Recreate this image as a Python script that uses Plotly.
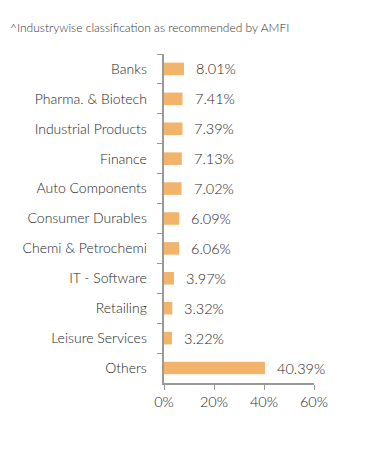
import plotly.graph_objects as go

categories = ["Banks", "Pharma. & Biotech", "Industrial Products", "Finance",
              "Auto Components", "Consumer Durables", "Chemi & Petrochemi",
              "IT - Software", "Retailing", "Leisure Services", "Others"]
values = [8.01, 7.41, 7.39, 7.13, 7.02, 6.09, 6.06, 3.97, 3.32, 3.22, 40.39]
x_ticks = [0, 20, 40, 60]
x_tick_labels = ["0%", "20%", "40%", "60%"]
note = "^Industrywise classification as recommended by AMFI"

FONT = "Lato"
TXT = "#1e1e1e"

fig = go.Figure(go.Bar(
    x=values, y=categories, orientation="h",
    marker=dict(color="#F2B36B", line=dict(width=0)),
    width=0.42,
))

for c, v in zip(categories, values):
    fig.add_annotation(x=v, y=c, text=f"{v:.2f}%", showarrow=False,
                       xanchor="left", xshift=10, yshift=0,
                       font=dict(family=FONT, size=14.5, color=TXT, weight=300))

fig.add_annotation(x=0, y=1, xref="paper", yref="paper", xanchor="left", yanchor="middle",
                   text=note, showarrow=False, xshift=-156, yshift=27,
                   font=dict(family=FONT, size=12, color="#333", weight=300))

fig.update_layout(
    template="none",
    width=383, height=442,
    margin=dict(l=156, r=77, t=46, b=67, autoexpand=False),
    paper_bgcolor="white", plot_bgcolor="white",
    showlegend=False,
    font=dict(family=FONT, size=13, color=TXT),
    xaxis=dict(range=[0, 60], tickvals=x_ticks, ticktext=x_tick_labels, automargin=False,
               showgrid=False, zeroline=False, showline=True, linecolor="#999",
               linewidth=1.5, ticks="outside", ticklen=5, tickcolor="#999",
               tickfont=dict(family=FONT, size=14.5, color=TXT, weight=300)),
    yaxis=dict(autorange="reversed", showgrid=False, showline=True, linecolor="#999",
               linewidth=1.5, ticks="outside", ticklen=5, tickcolor="#999", automargin=False,
               tickson="boundaries", ticksuffix="  ", zeroline=False, ticklabelstandoff=5,
               tickfont=dict(family=FONT, size=14, color=TXT, weight=300)),
)

fig.write_html("out.html")
